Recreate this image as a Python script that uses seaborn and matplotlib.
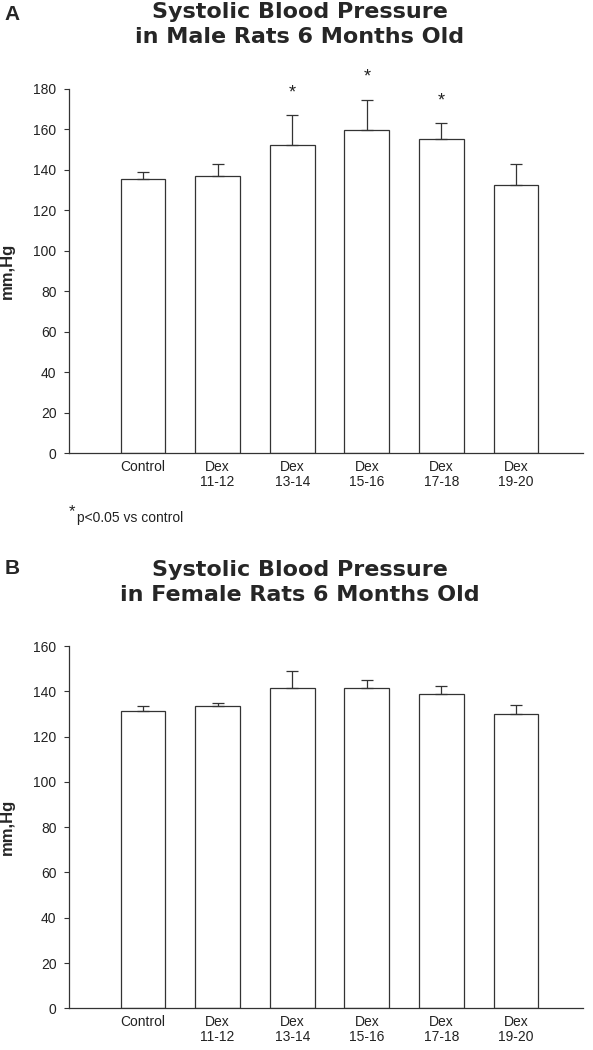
# Systolic blood pressure in 6 month old rats (male / female)
import matplotlib
matplotlib.use("Agg")
import matplotlib.pyplot as plt
import seaborn as sns

# data
groups = ["Control", "Dex\n11-12", "Dex\n13-14", "Dex\n15-16", "Dex\n17-18", "Dex\n19-20"]
male_mean = [135.3, 136.8, 152.1, 159.5, 155.4, 132.4]
male_sem = [3.5, 6.3, 15.1, 15.2, 7.6, 10.5]
male_signif = [False, False, True, True, True, False]
female_mean = [131.1, 133.6, 141.4, 141.6, 138.9, 130.1]
female_sem = [2.2, 1.3, 7.6, 3.6, 3.4, 3.9]

sns.set_style("ticks")
plt.rcParams["font.family"] = ["Liberation Sans", "DejaVu Sans"]

W, H = 593, 1050
fig = plt.figure(figsize=(W / 100, H / 100), dpi=100)
line_col = "#333333"


def px(x, y):
    # pixel coords -> figure fraction
    return x / W, 1 - y / H


def panel(top, bottom, mean, sem, ymax):
    ax = fig.add_axes([68.5 / W, 1 - bottom / H, (583 - 68.5) / W, (bottom - top) / H])
    sns.barplot(x=groups, y=mean, color="white", edgecolor=line_col,
                linewidth=0.9, width=0.6, saturation=1, ax=ax)
    ax.errorbar(range(len(groups)), mean, yerr=[[0] * len(sem), sem], fmt="none",
                ecolor=line_col, elinewidth=0.9, capsize=4.2, capthick=0.9)
    ax.set_xlim(-1, 5.9)
    ax.set_ylim(0, ymax)
    ax.set_yticks(range(0, ymax + 1, 20))
    sns.despine(ax=ax)
    for s in ["left", "bottom"]:
        ax.spines[s].set_color(line_col)
        ax.spines[s].set_linewidth(0.9)
    ax.tick_params(axis="y", length=3.6, width=0.8, color=line_col, pad=5,
                   labelsize=10, labelcolor="#222222")
    ax.tick_params(axis="x", length=0, pad=5, labelsize=10, labelcolor="#222222")
    for lab in ax.get_xticklabels():
        lab.set_linespacing(1.05)
    ax.set_xlabel("")
    ax.set_ylabel("")
    return ax


# Panel A
axA = panel(89, 453.3, male_mean, male_sem, 180)
for i, sig in enumerate(male_signif):
    if sig:
        axA.text(i, male_mean[i] + male_sem[i] + 11, "*", ha="center", va="center",
                 fontsize=13, color="#222222", clip_on=False)

# Panel B
axB = panel(646, 1008.3, female_mean, female_sem, 160)

title_font = dict(fontsize=16, fontweight="bold", family="DejaVu Sans", ha="center", va="center")
fig.text(*px(300, 12), "Systolic Blood Pressure", **title_font)
fig.text(*px(300, 37), "in Male Rats 6 Months Old", **title_font)
fig.text(*px(300, 570), "Systolic Blood Pressure", **title_font)
fig.text(*px(300, 595), "in Female Rats 6 Months Old", **title_font)

fig.text(*px(12, 15), "A", fontsize=15, fontweight="bold", ha="center", va="center")
fig.text(*px(12, 569), "B", fontsize=15, fontweight="bold", ha="center", va="center")

for yc in [271, 827]:
    fig.text(*px(7, yc), "mm,Hg", rotation=90, fontsize=12, fontweight="bold",
             ha="center", va="center")

# footnote
fig.text(*px(71.5, 512), "*", fontsize=12, ha="center", va="center", color="#222222")
fig.text(*px(77, 518), "p<0.05 vs control", fontsize=10, ha="left", va="center", color="#222222")

fig.savefig("out.png", dpi=100, facecolor="white")
